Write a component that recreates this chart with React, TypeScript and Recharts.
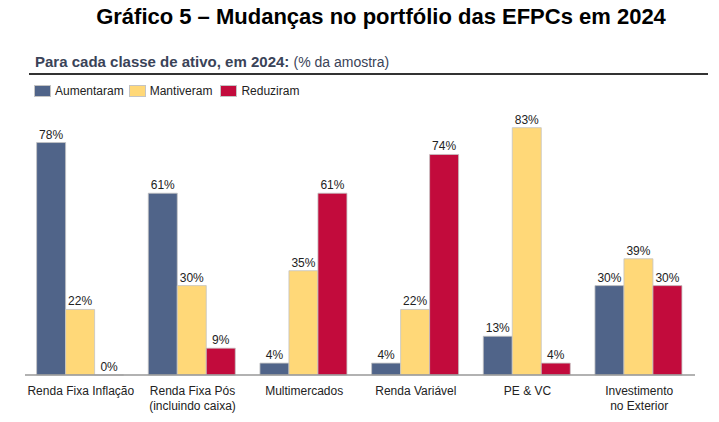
import { Bar, BarChart, LabelList, XAxis, YAxis } from 'recharts';

const categories = [
  'Renda Fixa Inflação',
  'Renda Fixa Pós\n(incluindo caixa)',
  'Multimercados',
  'Renda Variável',
  'PE & VC',
  'Investimento\nno Exterior',
];
const aumentaram = [78, 61, 4, 4, 13, 30];
const mantiveram = [22, 30, 35, 22, 83, 39];
const reduziram = [0, 9, 61, 74, 4, 30];

const series = [
  { key: 'aumentaram', name: 'Aumentaram', color: '#506489' },
  { key: 'mantiveram', name: 'Mantiveram', color: '#ffd878' },
  { key: 'reduziram', name: 'Reduziram', color: '#c20b3c' },
];

const data = categories.map((c, i) => ({
  c,
  aumentaram: aumentaram[i],
  mantiveram: mantiveram[i],
  reduziram: reduziram[i],
}));

const FONT = '"Liberation Sans", Arial, sans-serif';

function Tick({ x, y, payload }: any) {
  const lines = String(payload.value).split('\n');
  return (
    <text x={x} y={y} textAnchor="middle" fontSize={12} fill="#222" fontFamily={FONT}>
      {lines.map((l, i) => (
        <tspan key={i} x={x} dy={i === 0 ? 12 : 15}>
          {l}
        </tspan>
      ))}
    </text>
  );
}

// draws the value even for zero-height bars
function ValueLabel({ x, y, width, value }: any) {
  return (
    <text
      x={Number(x) + Number(width) / 2}
      y={Number(y) - 4}
      textAnchor="middle"
      fontSize={12}
      fill="#222"
      fontFamily={FONT}
    >
      {`${value}%`}
    </text>
  );
}

export default function App() {
  return (
    <div style={{ position: 'absolute', left: 0, top: 0, width: 719, height: 422, background: '#fff', fontFamily: FONT }}>
      <div
        style={{
          position: 'absolute',
          left: 0,
          width: 762,
          top: 4,
          textAlign: 'center',
          fontSize: 22,
          fontWeight: 'bold',
          color: '#000',
        }}
      >
        Gráfico 5 – Mudanças no portfólio das EFPCs em 2024
      </div>
      <div style={{ position: 'absolute', left: 35, top: 53, fontSize: 15, color: '#3a4358' }}>
        <b>Para cada classe de ativo, em 2024:</b> <span style={{ fontSize: 14 }}>(% da amostra)</span>
      </div>
      <div style={{ position: 'absolute', left: 29, width: 679, top: 73, height: 2, background: '#333' }} />
      <div
        style={{
          position: 'absolute',
          left: 34,
          top: 84,
          display: 'flex',
          alignItems: 'center',
          fontSize: 12,
          color: '#222',
        }}
      >
        {series.map((s, i) => (
          <div key={s.key} style={{ display: 'flex', alignItems: 'center', marginRight: i === 0 ? 5 : 8 }}>
            <span
              style={{
                display: 'inline-block',
                width: 17,
                height: 12,
                background: s.color,
                border: '1px solid #c4c4c4',
                boxSizing: 'border-box',
                marginRight: 4,
              }}
            />
            {s.name}
          </div>
        ))}
      </div>
      <div style={{ position: 'absolute', left: 0, top: 0 }}>
        <BarChart
          width={719}
          height={422}
          data={data}
          margin={{ top: 77, right: 24, left: 25, bottom: 0 }}
          barCategoryGap="10.4%"
          barGap={0}
        >
          <XAxis
            dataKey="c"
            tick={<Tick />}
            tickLine={false}
            axisLine={{ stroke: '#999', strokeWidth: 1.5 }}
            interval={0}
            height={47}
          />
          <YAxis hide domain={[0, 100]} />
          {series.map((s) => (
            <Bar
              key={s.key}
              dataKey={s.key}
              name={s.name}
              fill={s.color}
              stroke="#c4c4c4"
              strokeWidth={0.8}
              minPointSize={(v: number) => (v === 0 ? 0.01 : 0)}
              isAnimationActive={false}
            >
              <LabelList dataKey={s.key} content={<ValueLabel />} />
            </Bar>
          ))}
        </BarChart>
      </div>
    </div>
  );
}
